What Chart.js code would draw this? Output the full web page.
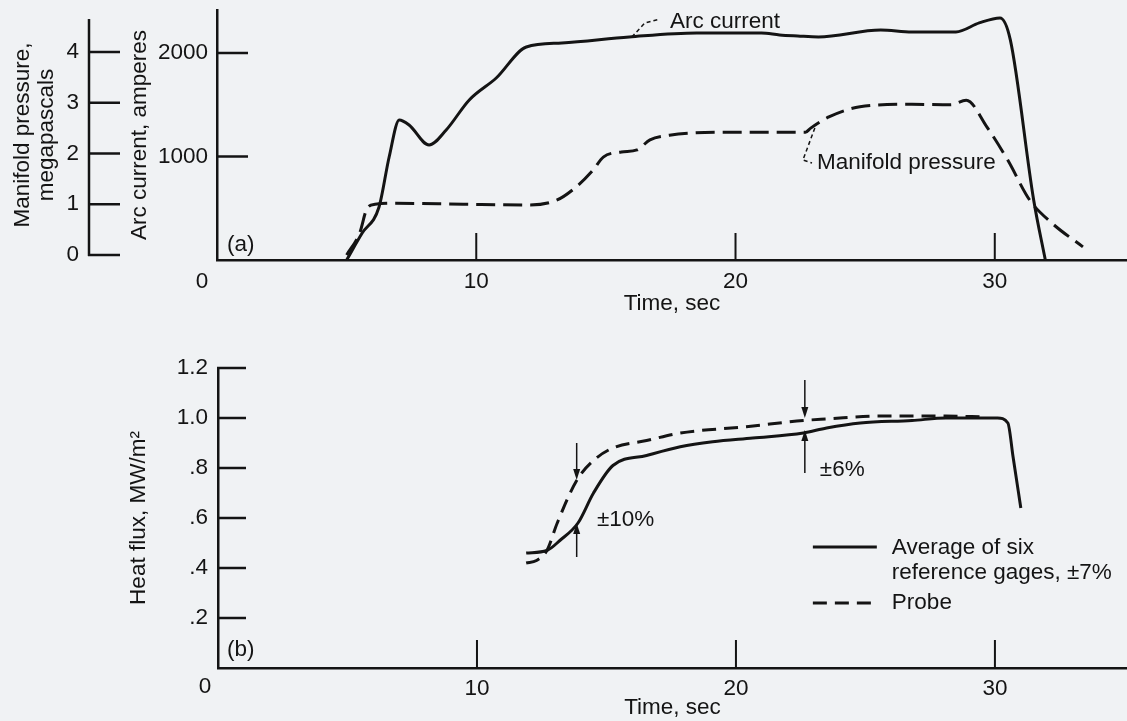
<!DOCTYPE html>
<html><head><meta charset="utf-8">
<script src="https://cdn.jsdelivr.net/npm/chart.js@4.4.1/dist/chart.umd.min.js"></script>
<style>
html,body{margin:0;padding:0;background:#f0f2f4;width:1127px;height:721px;overflow:hidden;position:relative}
canvas{display:block;position:absolute;left:0}
#c1{top:0}
#c2{top:330px}
</style></head><body>
<canvas id="c1" width="1127" height="330"></canvas>
<canvas id="c2" width="1127" height="391"></canvas>
<script>
// ---------- data ----------
const xTicks = [10, 20, 30];
const arcTicks = [1000, 2000];
const presTicks = [0, 1, 2, 3, 4];
const fluxTicks = [0.2, 0.4, 0.6, 0.8, 1.0, 1.2];

// Panel (a): arc current, amperes
const arcTime = [5.0, 5.6, 6.25, 6.64, 7.03, 7.41, 8.18, 8.84, 9.73, 10.77, 11.93, 13.3, 15.9, 18.5, 21.0, 21.7, 22.4, 23.2, 25.6, 26.8, 28.5, 29.4, 30.2, 30.6, 31.5, 31.95];
const arcAmps = [0, 260, 512, 995, 1353, 1304, 1111, 1256, 1546, 1758, 2058, 2097, 2155, 2193, 2193, 2174, 2164, 2155, 2222, 2203, 2203, 2290, 2338, 2126, 580, 0];

// Panel (a): manifold pressure, megapascals
const presTime = [5.0, 5.5, 5.8, 6.1, 6.9, 9.5, 12.05, 13.1, 13.85, 14.5, 14.9, 15.6, 16.2, 16.7, 17.45, 19.8, 22.7, 22.9, 23.6, 24.8, 26.8, 28.3, 28.9, 29.7, 30.5, 31.35, 32.2, 33.4];
const presMPa = [0, 0.43, 0.93, 1.0, 1.02, 1.0, 0.985, 1.08, 1.34, 1.67, 1.93, 2.03, 2.07, 2.27, 2.36, 2.42, 2.42, 2.50, 2.72, 2.92, 2.97, 2.96, 3.05, 2.52, 1.87, 1.08, 0.63, 0.16];

// Panel (b): heat flux, MW/m2
const gageTime = [11.9, 12.7, 13.2, 13.9, 14.5, 15.25, 16.55, 17.85, 19.1, 20.65, 22.6, 23.5, 24.8, 26.8, 28.1, 30.1, 30.5, 30.7, 31.0];
const gageFlux = [0.46, 0.47, 0.51, 0.58, 0.70, 0.81, 0.85, 0.885, 0.905, 0.92, 0.94, 0.96, 0.98, 0.99, 1.0, 1.0, 0.98, 0.845, 0.64];
const probeTime = [11.9, 12.3, 12.7, 13.1, 13.85, 14.5, 15.25, 16.55, 17.85, 20.4, 22.6, 23.5, 25.6, 28.1, 29.6];
const probeFlux = [0.42, 0.43, 0.47, 0.58, 0.75, 0.83, 0.88, 0.91, 0.94, 0.965, 0.99, 0.996, 1.008, 1.008, 1.004];

const gageLabel = ['Average of six', 'reference gages, \u00b17%'];
const probeLabel = ['Probe'];

// ---------- styling ----------
const INK = '#141414';
const FAM = '"Liberation Sans", Arial, Helvetica, sans-serif';
const FS = 22.5;
Chart.defaults.font.family = FAM;
Chart.defaults.font.size = FS;
Chart.defaults.color = INK;

const pts = (xs, ys) => xs.map((x, i) => ({x, y: ys[i]}));
const setTicks = vals => scale => { scale.ticks = vals.map(v => ({value: v})); };
const fitTo = (w, h) => s => {
  if (w !== null) s.width = w;
  if (h !== null) s.height = h;
  s.paddingTop = 0; s.paddingBottom = 0; s.paddingLeft = 0; s.paddingRight = 0;
};

function makeDecor(cfg) {
  return {
    id: 'decor',
    afterDraw(chart) {
      const ctx = chart.ctx, ca = chart.chartArea;
      const xs = chart.scales.x, ys = chart.scales[cfg.yMain];
      const X = v => xs.getPixelForValue(v), Y = v => ys.getPixelForValue(v);
      ctx.save();
      ctx.strokeStyle = INK; ctx.fillStyle = INK; ctx.lineCap = 'butt';
      if (cfg.extraAxis) {
        const s = chart.scales[cfg.extraAxis.id];
        ctx.lineWidth = 2.5; ctx.beginPath();
        ctx.moveTo(s.right, s.getPixelForValue(cfg.extraAxis.from) + 1);
        ctx.lineTo(s.right, s.getPixelForValue(cfg.extraAxis.to));
        ctx.stroke();
      }
      cfg.yTicks.forEach(t => {
        const s = chart.scales[t.id];
        ctx.lineWidth = 2.5; ctx.beginPath();
        t.values.forEach(v => { const p = s.getPixelForValue(v); ctx.moveTo(s.right - 1, p); ctx.lineTo(s.right + t.len, p); });
        ctx.stroke();
      });
      ctx.lineWidth = 2; ctx.beginPath();
      xTicks.forEach(v => { const p = X(v); ctx.moveTo(p, ca.bottom); ctx.lineTo(p, ca.bottom - cfg.xTickLen); });
      ctx.stroke();
      ctx.font = FS + 'px ' + FAM; ctx.textBaseline = 'middle';
      ctx.textAlign = 'center';
      ctx.fillText('0', ca.left + cfg.corner.dx, ca.bottom + cfg.corner.dy);
      ctx.textAlign = 'left';
      cfg.texts.forEach(t => ctx.fillText(t.text, X(t.x), Y(t.y)));
      ctx.lineWidth = 1.5; ctx.setLineDash([4, 3]);
      (cfg.leaders || []).forEach(l => {
        ctx.beginPath();
        l.forEach((p, i) => { const px = X(p[0]), py = Y(p[1]); if (i) ctx.lineTo(px, py); else ctx.moveTo(px, py); });
        ctx.stroke();
      });
      ctx.setLineDash([]);
      (cfg.arrows || []).forEach(a => {
        const x = X(a.x), y0 = Y(a.from), y1 = Y(a.to);
        const dir = y1 > y0 ? 1 : -1;
        ctx.lineWidth = 1.5; ctx.beginPath(); ctx.moveTo(x, y0); ctx.lineTo(x, y1 - dir * 8); ctx.stroke();
        ctx.beginPath(); ctx.moveTo(x, y1); ctx.lineTo(x - 3.5, y1 - dir * 11); ctx.lineTo(x + 3.5, y1 - dir * 11); ctx.closePath(); ctx.fill();
      });
      if (cfg.legend) {
        const L = cfg.legend;
        chart.data.datasets.forEach((ds, i) => {
          const row = L.rows[i];
          ctx.lineWidth = ds.borderWidth; ctx.setLineDash(ds.borderDash || []);
          ctx.beginPath(); ctx.moveTo(X(L.x0), Y(row.line)); ctx.lineTo(X(L.x1), Y(row.line)); ctx.stroke();
          ctx.setLineDash([]);
          ds.label.forEach((txt, j) => ctx.fillText(txt, X(L.tx), Y(row.text[j])));
        });
      }
      ctx.restore();
    }
  };
}

const xAxisBase = (height, tickPad, titlePad) => ({
  type: 'linear', position: 'bottom', min: 0, max: 35.1,
  grid: {display: false, drawTicks: false},
  border: {display: true, color: INK, width: 2.5},
  afterBuildTicks: setTicks(xTicks),
  ticks: {padding: tickPad, color: INK, font: {size: FS}, callback: v => String(v)},
  title: {display: true, text: 'Time, sec', color: INK, font: {size: FS}, padding: titlePad},
  afterFit: fitTo(null, height)
});

// ---------- Panel (a) ----------
new Chart(document.getElementById('c1'), {
  type: 'line',
  data: {datasets: [
    {label: ['Arc current'], data: pts(arcTime, arcAmps), yAxisID: 'yArc', borderColor: INK, borderWidth: 3, pointRadius: 0, cubicInterpolationMode: 'monotone', fill: false},
    {label: ['Manifold pressure'], data: pts(presTime, presMPa), yAxisID: 'yPres', borderColor: INK, borderWidth: 3, borderDash: [19, 8], pointRadius: 0, cubicInterpolationMode: 'monotone', fill: false}
  ]},
  options: {
    responsive: false, animation: false, devicePixelRatio: 1,
    layout: {padding: {top: 10, right: 0, bottom: 0, left: 0}},
    plugins: {legend: {display: false}, tooltip: {enabled: false}},
    scales: {
      x: xAxisBase(70, 8, {top: 0, bottom: 13}),
      yArc: {
        type: 'linear', position: 'left', weight: 0, min: 0, max: 2415,
        grid: {display: false, drawTicks: false},
        border: {display: true, color: INK, width: 2.5},
        afterBuildTicks: setTicks(arcTicks),
        ticks: {padding: 9, color: INK, font: {size: FS}, callback: v => String(v)},
        title: {display: true, text: 'Arc current, amperes', color: INK, font: {size: FS}, padding: {top: 37, bottom: 0}},
        afterFit: fitTo(128, null)
      },
      yPres: {
        type: 'linear', position: 'left', weight: 1, min: -0.0985, max: 4.828,
        grid: {display: false, drawTicks: false},
        border: {display: false},
        afterBuildTicks: setTicks(presTicks),
        ticks: {padding: 10, color: INK, font: {size: FS}, callback: v => String(v)},
        title: {display: true, text: ['Manifold pressure,', 'megapascals'], color: INK, font: {size: FS, lineHeight: 1.07}, padding: {top: 11, bottom: 0}},
        afterFit: fitTo(89, null)
      }
    }
  },
  plugins: [makeDecor({
    yMain: 'yArc',
    extraAxis: {id: 'yPres', from: 0, to: 4.65},
    yTicks: [{id: 'yArc', values: arcTicks, len: 31}, {id: 'yPres', values: presTicks, len: 31}],
    xTickLen: 27,
    corner: {dx: -15, dy: 22},
    texts: [
      {text: '(a)', x: 0.39, y: 145},
      {text: 'Arc current', x: 17.47, y: 2299},
      {text: 'Manifold pressure', x: 23.14, y: 937}
    ],
    leaders: [
      [[16.0, 2154], [16.5, 2289], [17.08, 2328]],
      [[23.06, 1275], [22.6, 966], [22.95, 937]]
    ]
  })]
});

// ---------- Panel (b) ----------
new Chart(document.getElementById('c2'), {
  type: 'line',
  data: {datasets: [
    {label: gageLabel, data: pts(gageTime, gageFlux), yAxisID: 'y', borderColor: INK, borderWidth: 3, pointRadius: 0, cubicInterpolationMode: 'monotone', fill: false},
    {label: probeLabel, data: pts(probeTime, probeFlux), yAxisID: 'y', borderColor: INK, borderWidth: 3, borderDash: [14, 8], pointRadius: 0, cubicInterpolationMode: 'monotone', fill: false}
  ]},
  options: {
    responsive: false, animation: false, devicePixelRatio: 1,
    layout: {padding: {top: 38, right: 0, bottom: 0, left: 0}},
    plugins: {legend: {display: false}, tooltip: {enabled: false}},
    scales: {
      x: xAxisBase(53, 7, {top: 0, bottom: 0}),
      y: {
        type: 'linear', position: 'left', min: 0, max: 1.2,
        grid: {display: false, drawTicks: false},
        border: {display: true, color: INK, width: 2.5},
        afterBuildTicks: setTicks(fluxTicks),
        ticks: {padding: 10, color: INK, font: {size: FS}, callback: v => v >= 1 ? v.toFixed(1) : v.toFixed(1).replace(/^0/, '')},
        title: {display: true, text: 'Heat flux, MW/m\u00b2', color: INK, font: {size: FS}, padding: {top: 125, bottom: 0}},
        afterFit: fitTo(218, null)
      }
    }
  },
  plugins: [makeDecor({
    yMain: 'y',
    yTicks: [{id: 'y', values: fluxTicks, len: 28}],
    xTickLen: 28,
    corner: {dx: -13, dy: 19},
    texts: [
      {text: '(b)', x: 0.35, y: 0.072},
      {text: '\u00b110%', x: 14.63, y: 0.592},
      {text: '\u00b16%', x: 23.24, y: 0.792}
    ],
    arrows: [
      {x: 13.85, from: 0.90, to: 0.752},
      {x: 13.85, from: 0.444, to: 0.58},
      {x: 22.66, from: 1.152, to: 1.0},
      {x: 22.66, from: 0.78, to: 0.952}
    ],
    legend: {x0: 22.97, x1: 25.44, tx: 26.02, rows: [
      {line: 0.484, text: [0.48, 0.38]},
      {line: 0.26, text: [0.26]}
    ]}
  })]
});
</script>
</body></html>
